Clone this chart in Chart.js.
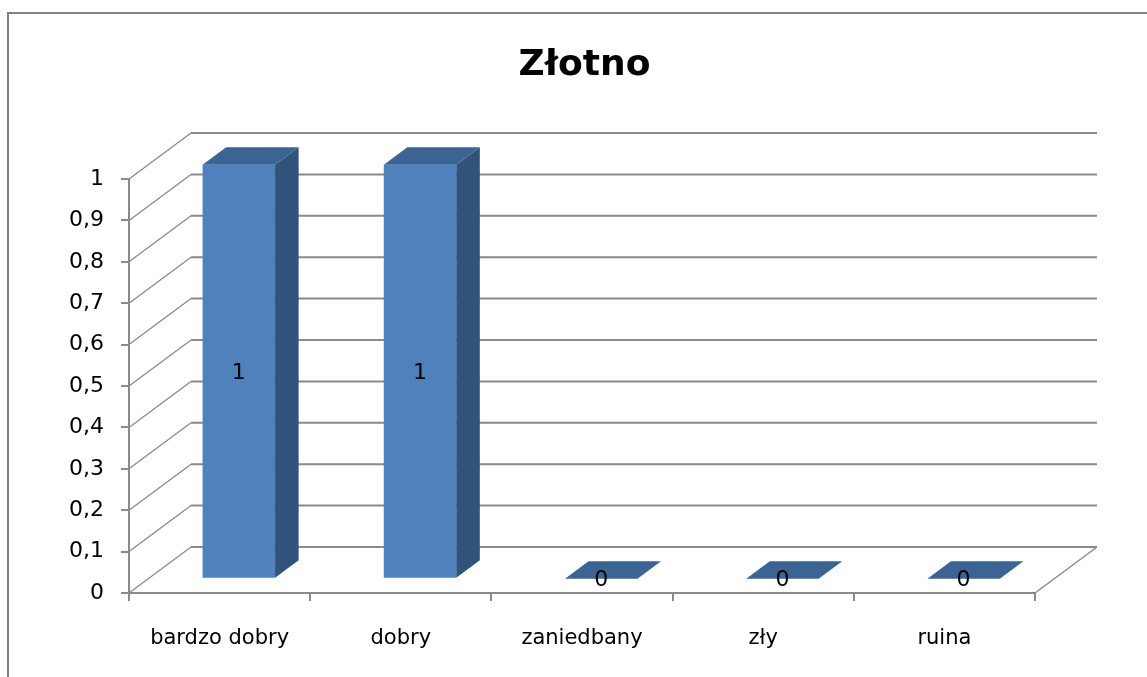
<!DOCTYPE html>
<html>
<head>
<meta charset="utf-8">
<script src="https://cdn.jsdelivr.net/npm/chart.js@4.4.1/dist/chart.umd.min.js"></script>
<style>
html,body{margin:0;padding:0;background:#fff;overflow:hidden}
canvas{display:block}
</style>
</head>
<body>
<canvas id="c" width="1147" height="677"></canvas>
<script>
// ---- data ----
const chartTitle = 'Złotno';
const categories = ['bardzo dobry', 'dobry', 'zaniedbany', 'zły', 'ruina'];
const values = [1, 1, 0, 0, 0];
const yTickValues = [0, 0.1, 0.2, 0.3, 0.4, 0.5, 0.6, 0.7, 0.8, 0.9, 1];
const yTickLabels = ['0', '0,1', '0,2', '0,3', '0,4', '0,5', '0,6', '0,7', '0,8', '0,9', '1'];

// ---- style ----
const DEPTH_DX = 62, DEPTH_DY = -46;      // full depth of floor / walls
const BAR_FRONT = 0.31, BAR_BACK = 0.69;  // bar depth position (fraction)
const FRONT_COLOR = '#4F81BD', SIDE_COLOR = '#31527B', TOP_COLOR = '#3C6493';
const GRID_COLOR = '#8a8a8a';
const FONT = 'DejaVu Sans';

const threeD = {
  id: 'threeD',
  beforeDraw(chart) {
    const ctx = chart.ctx;
    ctx.save();
    ctx.fillStyle = '#fff';
    ctx.fillRect(0, 0, chart.width, chart.height);
    ctx.strokeStyle = '#808080';
    ctx.lineWidth = 2;
    ctx.strokeRect(8, 13, chart.width + 40, chart.height + 40);
    ctx.restore();
  },
  beforeDatasetsDraw(chart) {
    const ctx = chart.ctx, a = chart.chartArea, ys = chart.scales.y;
    ctx.save();
    ctx.strokeStyle = GRID_COLOR;
    yTickValues.forEach(v => {
      const y = ys.getPixelForValue(v);
      ctx.lineWidth = 1.3;
      ctx.beginPath();
      ctx.moveTo(a.left, y);
      ctx.lineTo(a.left + DEPTH_DX, y + DEPTH_DY);
      ctx.stroke();
      ctx.lineWidth = 2;
      ctx.beginPath();
      ctx.moveTo(a.left + DEPTH_DX, y + DEPTH_DY);
      ctx.lineTo(a.right + DEPTH_DX, y + DEPTH_DY);
      ctx.stroke();
    });
    ctx.lineWidth = 1.5;
    ctx.beginPath();
    ctx.moveTo(a.right, a.bottom);
    ctx.lineTo(a.right + DEPTH_DX, a.bottom + DEPTH_DY);
    ctx.stroke();
    ctx.restore();
  },
  beforeDatasetDraw(chart) {
    chart.ctx.save();
    chart.ctx.translate(DEPTH_DX * BAR_FRONT, DEPTH_DY * BAR_FRONT);
  },
  afterDatasetDraw(chart, args) {
    const ctx = chart.ctx;
    ctx.restore();
    const fx = DEPTH_DX * BAR_FRONT, fy = DEPTH_DY * BAR_FRONT;
    const bx = DEPTH_DX * (BAR_BACK - BAR_FRONT), by = DEPTH_DY * (BAR_BACK - BAR_FRONT);
    ctx.save();
    args.meta.data.forEach(el => {
      const p = el.getProps(['x', 'y', 'base', 'width'], true);
      const l = p.x - p.width / 2 + fx, r = p.x + p.width / 2 + fx;
      const t = Math.min(p.y, p.base) + fy, b = Math.max(p.y, p.base) + fy;
      // side face
      if (b - t > 0.5) {
        ctx.fillStyle = SIDE_COLOR;
        ctx.beginPath();
        ctx.moveTo(r, t); ctx.lineTo(r + bx, t + by);
        ctx.lineTo(r + bx, b + by); ctx.lineTo(r, b);
        ctx.closePath(); ctx.fill();
      }
      // top face
      ctx.fillStyle = TOP_COLOR;
      ctx.beginPath();
      ctx.moveTo(l, t); ctx.lineTo(r, t);
      ctx.lineTo(r + bx, t + by); ctx.lineTo(l + bx, t + by);
      ctx.closePath(); ctx.fill();
    });
    ctx.restore();
  },
  afterDatasetsDraw(chart) {
    const ctx = chart.ctx;
    const fx = DEPTH_DX * BAR_FRONT, fy = DEPTH_DY * BAR_FRONT;
    ctx.save();
    ctx.fillStyle = '#000';
    ctx.font = '22px "' + FONT + '"';
    ctx.textAlign = 'center';
    ctx.textBaseline = 'middle';
    chart.getDatasetMeta(0).data.forEach((el, i) => {
      const p = el.getProps(['x', 'y', 'base'], true);
      ctx.fillText(String(values[i]), p.x + fx, (p.y + p.base) / 2 + fy + 2);
    });
    ctx.restore();
  }
};

new Chart(document.getElementById('c'), {
  type: 'bar',
  data: {
    labels: categories,
    datasets: [{
      data: values,
      backgroundColor: FRONT_COLOR,
      borderWidth: 0,
      barPercentage: 0.4,
      categoryPercentage: 1,
      clip: false
    }]
  },
  options: {
    responsive: false,
    animation: false,
    devicePixelRatio: 1,
    layout: { padding: { left: 22, right: 0, top: 0, bottom: 0 } },
    plugins: {
      legend: { display: false },
      tooltip: { enabled: false },
      title: {
        display: true,
        text: chartTitle,
        color: '#000',
        font: { family: FONT, size: 36, weight: 'bold' },
        padding: { top: 44, bottom: 91.8 }
      }
    },
    scales: {
      x: {
        grid: { offset: true, drawOnChartArea: false, drawTicks: true, tickLength: 8, color: GRID_COLOR, lineWidth: 2 },
        border: { display: true, color: GRID_COLOR, width: 2 },
        ticks: { color: '#000', font: { family: FONT, size: 21 }, padding: 25, maxRotation: 0, autoSkip: false },
        afterFit(s) { s.height = 84; }
      },
      y: {
        min: 0, max: 1,
        grid: { drawOnChartArea: false, drawTicks: true, tickLength: 8, color: GRID_COLOR, lineWidth: 2 },
        border: { display: true, color: GRID_COLOR, width: 2 },
        ticks: {
          stepSize: 0.1, color: '#000', padding: 17,
          font: { family: FONT, size: 22 },
          callback: (v, i) => yTickLabels[i]
        },
        afterFit(s) { s.width = 107; }
      },
      yRight: {
        position: 'right',
        display: true,
        grid: { display: false },
        border: { display: false },
        ticks: { display: false },
        afterFit(s) { s.width = 112; }
      }
    }
  },
  plugins: [threeD]
});
</script>
</body>
</html>
